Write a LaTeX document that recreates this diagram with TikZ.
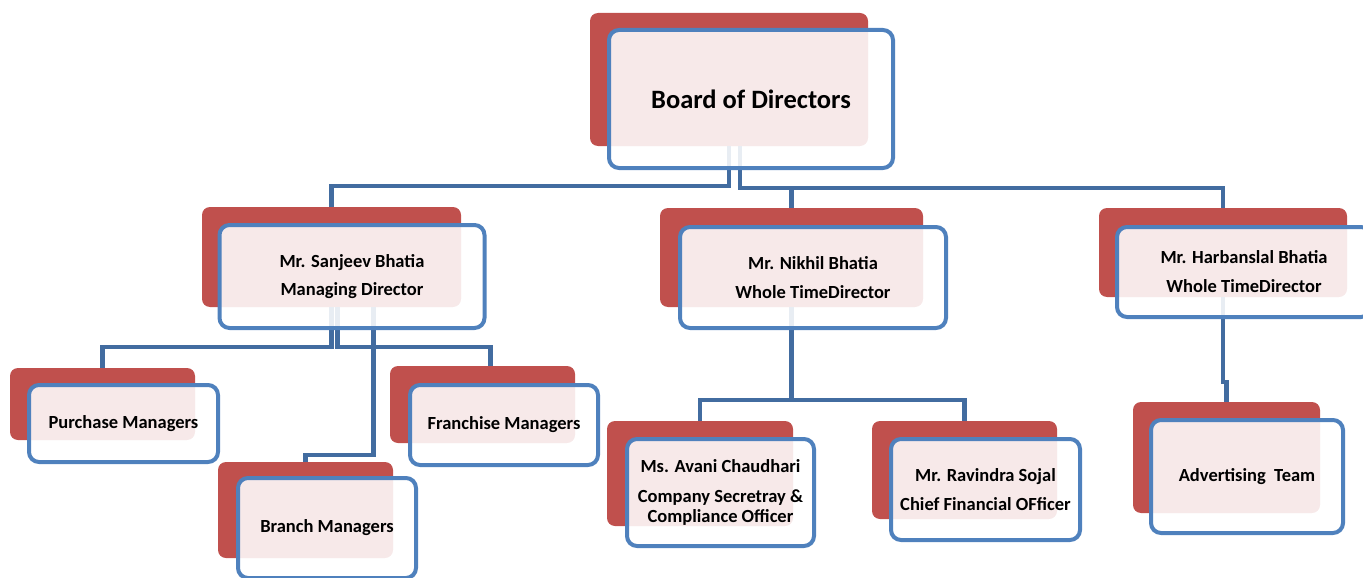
\documentclass[tikz,border=0pt]{standalone}
\usepackage{fontspec}
\setmainfont{Carlito}
\definecolor{redbx}{RGB}{192,80,77}
\definecolor{bluebd}{RGB}{79,129,189}
\definecolor{connc}{RGB}{66,108,160}
\begin{document}
\begin{tikzpicture}[x=1pt,y=-1pt,
  redbox/.style={draw=none,fill=redbx,rounded corners=8pt,inner sep=0pt},
  bluebox/.style={draw=bluebd,line width=4pt,fill=white,fill opacity=0.88,text opacity=1,
     rounded corners=10pt,inner sep=0pt,align=center,font=\fontsize{18.5}{20}\selectfont\bfseries},
  conn/.style={draw=connc,line width=4.5pt}]
\useasboundingbox (0,0) rectangle (1363,578);
\clip (0,0) rectangle (1363,578);
% red back boxes
\node[redbox,minimum width=278pt,minimum height=133pt] (bodR) at (729,79.5) {};
\node[redbox,minimum width=259pt,minimum height=100pt] (sjR) at (331.5,257) {};
\node[redbox,minimum width=263pt,minimum height=99pt] (nkR) at (791.5,257.5) {};
\node[redbox,minimum width=248pt,minimum height=89pt] (hbR) at (1223,252.5) {};
\node[redbox,minimum width=185pt,minimum height=72pt] (puR) at (102.5,404) {};
\node[redbox,minimum width=185pt,minimum height=77pt] (frR) at (482.5,404.5) {};
\node[redbox,minimum width=175pt,minimum height=96pt] (brR) at (305.5,510) {};
\node[redbox,minimum width=186pt,minimum height=105pt] (avR) at (700,473.5) {};
\node[redbox,minimum width=185pt,minimum height=98pt] (rvR) at (964.5,470) {};
\node[redbox,minimum width=187pt,minimum height=111pt] (adR) at (1226.5,457.5) {};
% connectors
\draw[conn] (bodR.south) -- ++(0,40) -| (sjR.north);
\draw[conn] ([xshift=11pt]bodR.south) -- ++(0,42) -| (nkR.north);
\draw[conn] ([xshift=11pt]bodR.south) -- ++(0,42) -| (hbR.north);
\draw[conn] (sjR.south) -- ++(0,40) -| (puR.north);
\draw[conn] ([xshift=6pt]sjR.south) -- ++(0,40) -| ([xshift=8pt]frR.north);
\draw[conn] ([xshift=42pt]sjR.south) -- ++(0,148) -| (brR.north);
\draw[conn] (nkR.south) -- ++(0,93) -| (avR.north);
\draw[conn] (nkR.south) -- ++(0,93) -| (rvR.north);
\draw[conn] (hbR.south) -- ++(0,85) -| (adR.north);
% front boxes
\node[bluebox,minimum width=284pt,minimum height=138pt,font=\fontsize{26.5}{30}\selectfont\bfseries] (bod) at (751,99) {Board of Directors};
\node[bluebox,minimum width=265pt,minimum height=103pt] (sj) at (352,276.5) {Mr. Sanjeev Bhatia\\[8pt]Managing Director};
\node[bluebox,minimum width=266pt,minimum height=101pt] (nk) at (813,277.5) {Mr. Nikhil Bhatia\\[9pt]Whole TimeDirector};
\node[bluebox,minimum width=254pt,minimum height=90pt] (hb) at (1244,272) {Mr. Harbanslal Bhatia\\[9pt]Whole TimeDirector};
\node[bluebox,minimum width=189pt,minimum height=77pt] (pu) at (123.5,423.5) {Purchase Managers};
\node[bluebox,minimum width=188pt,minimum height=80pt] (fr) at (504,425) {Franchise Managers};
\node[bluebox,minimum width=178pt,minimum height=100pt] (br) at (327,528) {Branch Managers};
\node[bluebox,minimum width=187pt,minimum height=107pt] (av) at (720.5,492.5) {Ms. Avani Chaudhari\\[10pt]Company Secretray \&\\Compliance Officer};
\node[bluebox,minimum width=189pt,minimum height=101pt] (rv) at (985.5,489.5) {Mr. Ravindra Sojal\\[9pt]Chief Financial OFficer};
\node[bluebox,minimum width=192pt,minimum height=113pt] (ad) at (1247,476.5) {Advertising\ \ Team};
\end{tikzpicture}
\end{document}
